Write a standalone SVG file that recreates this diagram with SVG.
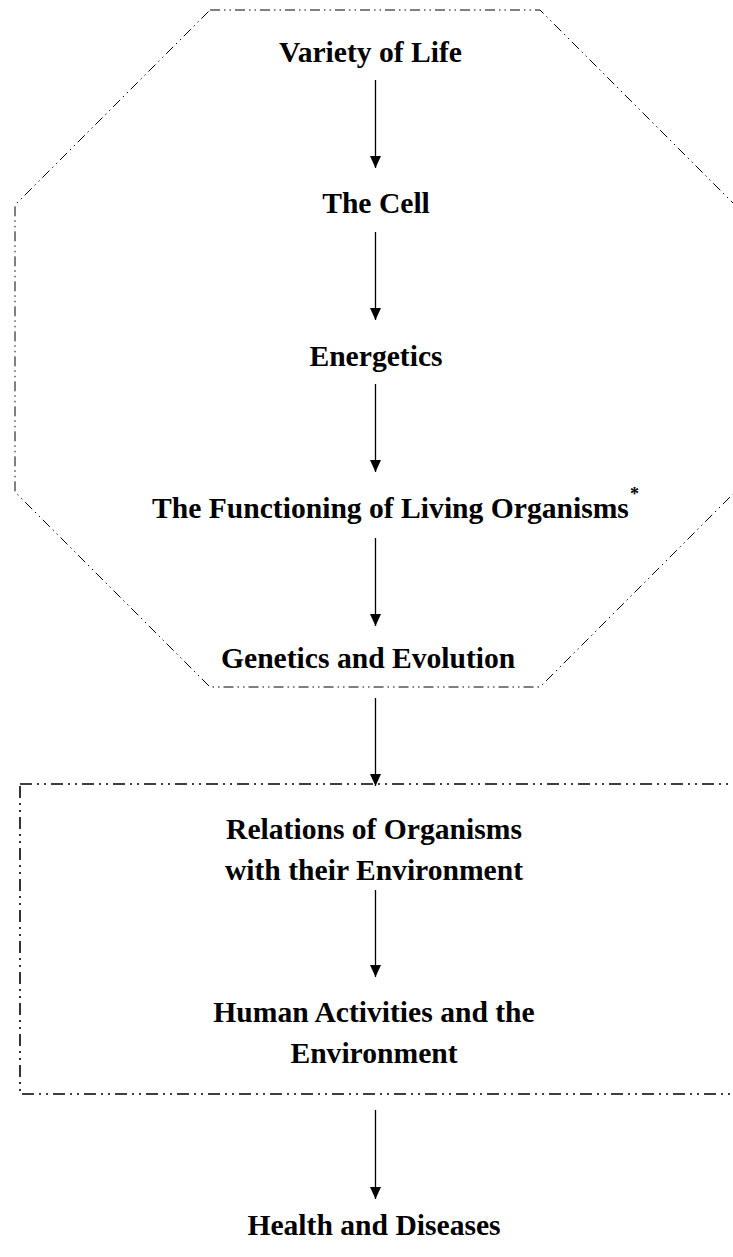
<svg xmlns="http://www.w3.org/2000/svg" width="733" height="1257" viewBox="0 0 733 1257">
<defs>
<style>
.t{font-family:"Liberation Serif","Times New Roman",serif;font-weight:bold;font-size:29.6px;fill:#000}
.c{text-anchor:middle}
.oct{fill:none;stroke:#000;stroke-width:1;stroke-dasharray:10 4 1.5 4 1.5 4}
.rect{fill:none;stroke:#000;stroke-width:1.6;stroke-dasharray:12 5 2 5 2 5}
.arr{stroke:#000;stroke-width:1.3;fill:none;marker-end:url(#ah)}
</style>
<marker id="ah" viewBox="0 0 12 11" refX="12" refY="5.5" markerWidth="12" markerHeight="11" markerUnits="userSpaceOnUse" orient="auto">
<path d="M0,0 L12,5.5 L0,11 Z" fill="#000"/>
</marker>
</defs>
<g id="group-core">
<polygon class="oct" points="210,10 540,10 735,205 735,492 540,687 210,687 15,492 15,205"/>
</g>
<g id="group-environment">
<rect class="rect" x="20" y="784" width="720" height="310"/>
</g>
<g id="n-variety"><text class="t" x="279" y="62">Variety of Life</text></g>
<g id="n-cell"><text class="t c" x="376" y="213">The Cell</text></g>
<g id="n-energetics"><text class="t c" x="376" y="366">Energetics</text></g>
<g id="n-functioning"><text class="t" x="152" y="518">The Functioning of Living Organisms<tspan dx="1" dy="-18" style="font-size:18px">*</tspan></text></g>
<g id="n-genetics"><text class="t" x="221" y="668">Genetics and Evolution</text></g>
<g id="n-relations"><text class="t c" x="374" y="839">Relations of Organisms</text><text class="t c" x="374" y="880">with their Environment</text></g>
<g id="n-human"><text class="t c" x="374" y="1022">Human Activities and the</text><text class="t c" x="374" y="1063">Environment</text></g>
<g id="n-health"><text class="t c" x="374" y="1235">Health and Diseases</text></g>
<g id="connectors">
<line class="arr" x1="375.5" y1="80" x2="375.5" y2="168"/>
<line class="arr" x1="375.5" y1="232" x2="375.5" y2="320"/>
<line class="arr" x1="375.5" y1="384" x2="375.5" y2="472"/>
<line class="arr" x1="375.5" y1="538" x2="375.5" y2="626"/>
<line class="arr" x1="375.5" y1="698" x2="375.5" y2="786"/>
<line class="arr" x1="375.5" y1="890" x2="375.5" y2="977"/>
<line class="arr" x1="375.5" y1="1110" x2="375.5" y2="1199"/>
</g>
</svg>
